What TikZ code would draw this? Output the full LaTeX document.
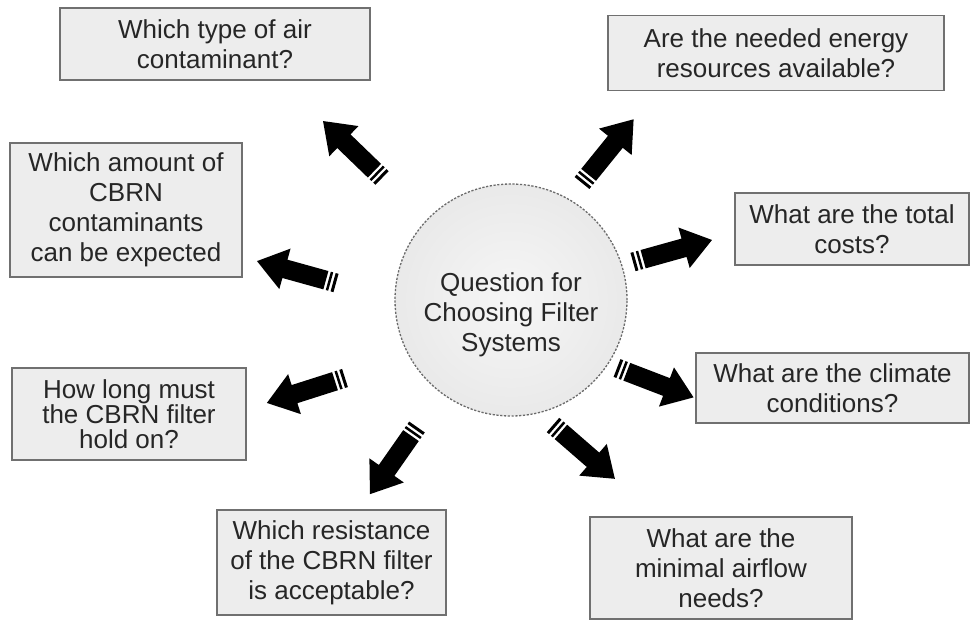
\documentclass[tikz,border=0pt]{standalone}
\usepackage{fontspec}
\setmainfont{Liberation Sans}
\definecolor{boxfill}{HTML}{EDEDED}
\definecolor{boxborder}{HTML}{707070}
\definecolor{txt}{HTML}{262626}
\definecolor{ringc}{HTML}{6A6A6A}
\begin{document}
\begin{tikzpicture}[x=1pt,y=1pt,
  qbox/.style={draw=boxborder, line width=1.4pt, fill=boxfill, text=txt,
    align=center, font=\fontsize{26}{30}\selectfont, inner sep=0pt},
  sarrow/.pic={
    \fill[black] (0,-9.5) rectangle (3,9.5);
    \fill[black] (5.5,-9.5) rectangle (8,9.5);
    \fill[black] (10.5,-9.5) -- (53,-9.5) -- (53,-21) -- (82,0) -- (53,21)
      -- (53,9.5) -- (10.5,9.5) -- cycle;
  }]
\useasboundingbox (0,0) rectangle (971,-619);

% centre circle
\node[circle, minimum size=232, inner sep=0pt, draw=ringc, line width=1.3pt,
  dash pattern=on 2.2pt off 1.6pt, inner color=gray!7, outer color=gray!17] (hub) at (511,-300) {};
\node[text=txt, align=center, font=\fontsize{26}{30}\selectfont] (hubtext) at (511,-315)
  {Question for\\Choosing Filter\\Systems};

% question boxes
\node[qbox, minimum width=310, minimum height=72] (type) at (215,-44)
  {Which type of air\\contaminant?};
\node[qbox, minimum width=336, minimum height=75] (energy) at (776,-53)
  {Are the needed energy\\resources available?};
\node[qbox, minimum width=232, minimum height=134] (amount) at (126,-210)
  {Which amount of\\CBRN\\contaminants\\can be expected};
\node[qbox, minimum width=234, minimum height=72] (costs) at (852,-229)
  {What are the total\\costs?};
\node[qbox, minimum width=273, minimum height=70] (climate) at (832.5,-388)
  {What are the climate\\conditions?};
\node[qbox, minimum width=234, minimum height=92, font=\fontsize{26}{25}\selectfont] (hold) at (129,-414)
  {How long must\\the CBRN filter\\hold on?};
\node[qbox, minimum width=229, minimum height=105] (resist) at (331.5,-562.5)
  {Which resistance\\of the CBRN filter\\is acceptable?};
\node[qbox, minimum width=262, minimum height=102] (airflow) at (721,-568)
  {What are the\\minimal airflow\\needs?};

% arrow tails
\coordinate (a1) at (382,-178);
\coordinate (a2) at (582,-183);
\coordinate (a3) at (336,-283);
\coordinate (a4) at (633,-262);
\coordinate (a5) at (617,-368);
\coordinate (a6) at (345,-378);
\coordinate (a7) at (417,-427);
\coordinate (a8) at (553,-425);

\pic[rotate=136] at (a1) {sarrow};
\pic[rotate=51] at (a2) {sarrow};
\pic[rotate=164.5] at (a3) {sarrow};
\pic[rotate=15.6] at (a4) {sarrow};
\pic[rotate=-21] at (a5) {sarrow};
\pic[rotate=197.7] at (a6) {sarrow};
\pic[rotate=235] at (a7) {sarrow};
\pic[rotate=-41] at (a8) {sarrow};
\end{tikzpicture}
\end{document}
